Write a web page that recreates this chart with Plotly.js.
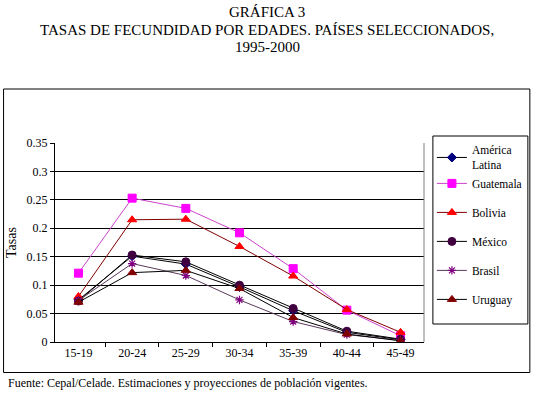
<!DOCTYPE html>
<html><head><meta charset="utf-8">
<script src="https://cdn.plot.ly/plotly-3.0.1.min.js"></script>
<style>html,body{margin:0;padding:0;background:#fff;overflow:hidden;width:539px;height:397px}#chart{width:539px;height:397px;overflow:hidden}</style>
</head><body><div id="chart"></div>
<script>
const edades = ["15-19","20-24","25-29","30-34","35-39","40-44","45-49"];
const americaLatina = [0.074,0.151,0.137,0.097,0.055,0.017,0.004];
const guatemala = [0.121,0.253,0.235,0.192,0.129,0.056,0.011];
const bolivia = [0.080,0.215,0.216,0.168,0.116,0.057,0.017];
const mexico = [0.072,0.153,0.141,0.100,0.059,0.019,0.005];
const brasil = [0.073,0.138,0.117,0.074,0.036,0.013,0.003];
const uruguay = [0.070,0.122,0.126,0.094,0.043,0.014,0.002];
const yTicks = [0,0.05,0.1,0.15,0.2,0.25,0.3,0.35];
const yTickText = ["0","0.05","0.1","0.15","0.2","0.25","0.3","0.35"];
const titleLines = ["GRÁFICA 3", "TASAS DE FECUNDIDAD POR EDADES. PAÍSES SELECCIONADOS,", "1995-2000"];

const serif = "Liberation Serif, Times New Roman, serif";
function tr(name, group, y, lineColor, sym, mColor, size, extra){
  const m = {symbol: sym, color: mColor, size: size, line:{color:mColor, width:1}};
  if (extra) Object.assign(m, extra);
  return {x: edades, y: y, name: name, type: "scatter", mode: "lines+markers",
          legendgroup: group, line: {color: lineColor, width: 1}, marker: m};
}
const data = [
  tr("América<br>Latina", "al", americaLatina, "#000000", "diamond", "#000080", 7),
  tr("Guatemala", "al", guatemala, "#CC44CC", "square", "#FF00FF", 8),
  tr("Bolivia", "bo", bolivia, "#800000", "triangle-up", "#FF0000", 8),
  tr("México", "mx", mexico, "#000000", "circle", "#400040", 8),
  tr("Brasil", "br", brasil, "#5a3a5a", "asterisk-open", "#800080", 7, {line:{color:"#800080", width:1.2}}),
  tr("Uruguay", "uy", uruguay, "#000000", "triangle-up", "#800000", 8)
];
const L = 55, T = 143, W = 373, H = 199;
const px = x => (x - L) / W, py = y => (T + H - y) / H;
const titleY = [12, 30, 47];
const annotations = titleLines.map((t, i) => ({
  xref: "paper", yref: "paper", x: px(269.5), y: py(titleY[i]), xanchor: "center", yanchor: "middle",
  showarrow: false, text: t, font: {family: serif, size: 15, color: "#000"}
}));
annotations.push({xref: "paper", yref: "paper", x: px(5), y: py(383), xanchor: "left", yanchor: "middle",
  showarrow: false, text: "Fuente: Cepal/Celade. Estimaciones y proyecciones de población vigentes.",
  font: {family: serif, size: 12, color: "#000"}});
const layout = {
  width: 539, height: 397,
  margin: {l: L, r: 539 - L - W, t: T, b: 397 - T - H},
  paper_bgcolor: "#fff", plot_bgcolor: "#fff",
  font: {family: serif, size: 12, color: "#000"},
  xaxis: {type: "category", showgrid: false, showline: true, linecolor: "#000", linewidth: 1,
          ticks: "outside", tickson: "boundaries", ticklen: 4, tickcolor: "#000",
          tickfont: {family: serif, size: 12}, zeroline: false, fixedrange: true},
  yaxis: {range: [0, 0.35], tickvals: yTicks, ticktext: yTickText, showgrid: true,
          gridcolor: "#000", gridwidth: 1, showline: true, linecolor: "#000", linewidth: 1,
          ticks: "outside", ticklen: 4, tickcolor: "#000", zeroline: false,
          tickfont: {family: serif, size: 12},
          title: {text: "Tasas", font: {family: serif, size: 14}, standoff: 6}},
  showlegend: true,
  legend: {x: px(436), y: py(136), xanchor: "left", yanchor: "top",
           font: {family: serif, size: 11.5, color: "#000"}, bgcolor: "rgba(0,0,0,0)",
           traceorder: "grouped", tracegroupgap: 10, itemwidth: 30},
  shapes: [
    {type: "rect", xref: "paper", yref: "paper", x0: px(3), x1: px(535), y0: py(372.5), y1: py(89),
     line: {color: "#000", width: 1}},
    {type: "rect", xref: "paper", yref: "paper", x0: px(437), x1: px(533), y0: py(324), y1: py(136),
     line: {color: "#000", width: 1}},
    {type: "line", xref: "paper", yref: "paper", x0: 1, x1: 1, y0: 0, y1: 1,
     line: {color: "#808080", width: 1}}
  ],
  annotations: annotations
};
Plotly.newPlot("chart", data, layout, {displayModeBar: false, staticPlot: true});
</script></body></html>
